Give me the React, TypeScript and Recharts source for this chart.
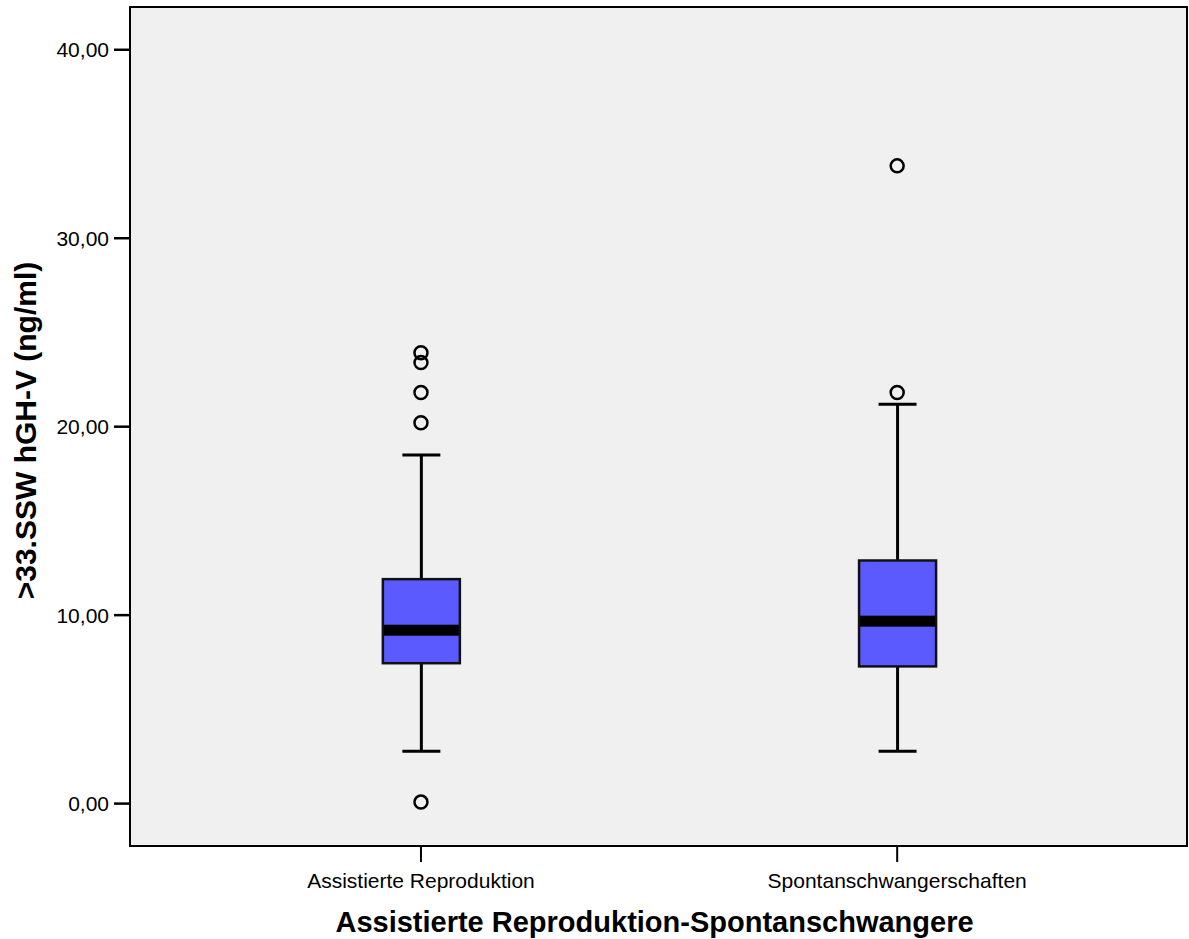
import {
  ComposedChart, Bar, Scatter, XAxis, YAxis, CartesianGrid, Label, ReferenceArea,
} from "recharts";

// Box plot values (ng/ml)
const groups = ["Assistierte Reproduktion", "Spontanschwangerschaften"];
const groupX = [1, 2];
const whiskerLow = [2.78, 2.78];
const q1 = [7.45, 7.28];
const median = [9.2, 9.68];
const q3 = [11.91, 12.9];
const whiskerHigh = [18.5, 21.19];
const outliers = [
  [23.92, 23.4, 21.81, 20.21, 0.08],
  [21.81, 33.84],
];
const yTicks = [0, 10, 20, 30, 40];
const xDomain = [0.389, 2.6086];
const yDomain = [-2.25, 42.27];

const BOX_FILL = "#5A5AFF";
const FONT = "'Liberation Sans', Arial, sans-serif";

const boxRows = groups.map((name, i) => ({
  name,
  x: groupX[i],
  range: [whiskerLow[i], whiskerHigh[i]],
  low: whiskerLow[i],
  q1: q1[i],
  median: median[i],
  q3: q3[i],
  high: whiskerHigh[i],
}));

const outlierPoints = outliers.flatMap((vals, i) => vals.map((v) => ({ x: groupX[i], y: v })));

const BoxShape = (props: any) => {
  const { x, y, width, height, payload } = props;
  if (x == null || y == null) return null;
  const top = Math.min(y, y + height);
  const bottom = Math.max(y, y + height);
  const { low, high } = payload;
  // map a value into the whisker rect the library computed
  const py = (v: number) => bottom - ((v - low) / (high - low)) * (bottom - top);
  const cx = x + width / 2;
  const capHalf = 19;
  const yQ1 = py(payload.q1);
  const yQ3 = py(payload.q3);
  const yMed = py(payload.median);
  return (
    <g>
      <line x1={cx} x2={cx} y1={py(high)} y2={yQ3} stroke="#000" strokeWidth={3} />
      <line x1={cx} x2={cx} y1={yQ1} y2={py(low)} stroke="#000" strokeWidth={3} />
      <line x1={cx - capHalf} x2={cx + capHalf} y1={py(high)} y2={py(high)} stroke="#000" strokeWidth={3} />
      <line x1={cx - capHalf} x2={cx + capHalf} y1={py(low)} y2={py(low)} stroke="#000" strokeWidth={3} />
      <rect x={x} y={yQ3} width={width} height={yQ1 - yQ3} fill={BOX_FILL} stroke="#111" strokeWidth={2.5} />
      <rect x={x + 1} y={yMed - 5.5} width={width - 2} height={11} fill="#000" />
    </g>
  );
};

const OutlierShape = (props: any) => {
  const { cx, cy } = props;
  if (cx == null || cy == null) return null;
  return <circle cx={cx} cy={cy} r={6.5} fill="none" stroke="#000" strokeWidth={2.5} />;
};

const fmt = (v: number) => v.toFixed(2).replace(".", ",");

export default function App() {
  return (
    <div style={{ position: "absolute", left: 0, top: 0, background: "#fff", fontFamily: FONT }}>
      <ComposedChart
        width={1189}
        height={939}
        data={boxRows}
        margin={{ top: 7, right: 2, bottom: 0, left: 0 }}
      >
        <CartesianGrid fill="#F0F0F0" horizontal={false} vertical={false} stroke="none" />
        <ReferenceArea
          x1={xDomain[0]}
          x2={xDomain[1]}
          y1={yDomain[0]}
          y2={yDomain[1]}
          fill="none"
          fillOpacity={0}
          stroke="#000"
          strokeWidth={2}
          ifOverflow="visible"
        />
        <XAxis
          dataKey="x"
          type="number"
          domain={xDomain}
          allowDataOverflow
          ticks={groupX}
          tickFormatter={(v: number) => groups[groupX.indexOf(v)] ?? ""}
          height={93}
          tickSize={16}
          tickMargin={11}
          tick={{ fill: "#000", fontSize: 21, fontFamily: FONT }}
          tickLine={{ stroke: "#000", strokeWidth: 2 }}
          axisLine={{ stroke: "#000", strokeWidth: 2 }}
        >
          <Label
            content={(p: any) => {
              const vb = p.viewBox;
              return (
                <text
                  x={vb.x + vb.width / 2 - 4}
                  y={vb.y + vb.height - 7}
                  textAnchor="middle"
                  fontSize={29}
                  fontWeight="bold"
                  fontFamily={FONT}
                  fill="#000"
                >
                  Assistierte Reproduktion-Spontanschwangere
                </text>
              );
            }}
          />
        </XAxis>
        <YAxis
          type="number"
          domain={yDomain}
          allowDataOverflow
          ticks={yTicks}
          tickFormatter={fmt}
          width={130}
          tickSize={16}
          tickMargin={5}
          tick={{ fill: "#000", fontSize: 21, fontFamily: FONT }}
          tickLine={{ stroke: "#000", strokeWidth: 2.5 }}
          axisLine={{ stroke: "#000", strokeWidth: 2 }}
        >
          <Label
            content={(p: any) => {
              const vb = p.viewBox;
              const lx = vb.x + 36;
              const ly = vb.y + vb.height / 2 + 4;
              return (
                <text
                  x={lx}
                  y={ly}
                  transform={`rotate(-90, ${lx}, ${ly})`}
                  textAnchor="middle"
                  fontSize={30}
                  fontWeight="bold"
                  fontFamily={FONT}
                  fill="#000"
                >
                  {">33.SSW hGH-V (ng/ml)"}
                </text>
              );
            }}
          />
        </YAxis>
        <Bar dataKey="range" barSize={77} shape={<BoxShape />} isAnimationActive={false} />
        <Scatter data={outlierPoints} dataKey="y" shape={<OutlierShape />} isAnimationActive={false} />
      </ComposedChart>
    </div>
  );
}
